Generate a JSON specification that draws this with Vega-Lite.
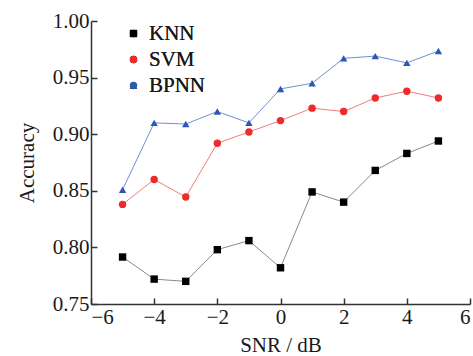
{
  "$schema": "https://vega.github.io/schema/vega-lite/v6.json",
  "width": 379,
  "height": 283,
  "autosize": {"type": "none"},
  "padding": {"left": 91, "top": 21, "right": 3, "bottom": 52},
  "background": "white",
  "config": {
    "view": {"stroke": null},
    "font": "Liberation Serif",
    "axis": {
      "grid": false,
      "domainColor": "#333333",
      "domainWidth": 1.5,
      "tickColor": "#333333",
      "tickWidth": 1.5,
      "tickSize": -6,
      "labelFont": "Liberation Serif",
      "labelFontSize": 21,
      "labelColor": "#1a1a1a",
      "titleFont": "Liberation Serif",
      "titleFontSize": 21,
      "titleFontWeight": "normal",
      "titleColor": "#1a1a1a"
    },
    "legend": {
      "disable": false,
      "labelFont": "Liberation Serif",
      "labelFontSize": 21,
      "labelColor": "#1a1a1a"
    }
  },
  "data": {
    "values": [
      {"snr": -5, "model": "KNN", "acc": 0.7915},
      {"snr": -4, "model": "KNN", "acc": 0.772},
      {"snr": -3, "model": "KNN", "acc": 0.770},
      {"snr": -2, "model": "KNN", "acc": 0.798},
      {"snr": -1, "model": "KNN", "acc": 0.806},
      {"snr": 0, "model": "KNN", "acc": 0.782},
      {"snr": 1, "model": "KNN", "acc": 0.849},
      {"snr": 2, "model": "KNN", "acc": 0.840},
      {"snr": 3, "model": "KNN", "acc": 0.868},
      {"snr": 4, "model": "KNN", "acc": 0.883},
      {"snr": 5, "model": "KNN", "acc": 0.894},
      {"snr": -5, "model": "SVM", "acc": 0.838},
      {"snr": -4, "model": "SVM", "acc": 0.860},
      {"snr": -3, "model": "SVM", "acc": 0.8445},
      {"snr": -2, "model": "SVM", "acc": 0.892},
      {"snr": -1, "model": "SVM", "acc": 0.902},
      {"snr": 0, "model": "SVM", "acc": 0.912},
      {"snr": 1, "model": "SVM", "acc": 0.923},
      {"snr": 2, "model": "SVM", "acc": 0.920},
      {"snr": 3, "model": "SVM", "acc": 0.932},
      {"snr": 4, "model": "SVM", "acc": 0.938},
      {"snr": 5, "model": "SVM", "acc": 0.932},
      {"snr": -5, "model": "BPNN", "acc": 0.851},
      {"snr": -4, "model": "BPNN", "acc": 0.910},
      {"snr": -3, "model": "BPNN", "acc": 0.909},
      {"snr": -2, "model": "BPNN", "acc": 0.920},
      {"snr": -1, "model": "BPNN", "acc": 0.910},
      {"snr": 0, "model": "BPNN", "acc": 0.940},
      {"snr": 1, "model": "BPNN", "acc": 0.945},
      {"snr": 2, "model": "BPNN", "acc": 0.967},
      {"snr": 3, "model": "BPNN", "acc": 0.969},
      {"snr": 4, "model": "BPNN", "acc": 0.963},
      {"snr": 5, "model": "BPNN", "acc": 0.9735}
    ]
  },
  "encoding": {
    "x": {
      "field": "snr", "type": "quantitative",
      "scale": {"domain": [-6, 6], "nice": false, "zero": false},
      "axis": {"values": [-6, -4, -2, 0, 2, 4, 6], "title": "SNR / dB", "labelPadding": 8, "titlePadding": 7}
    },
    "y": {
      "field": "acc", "type": "quantitative",
      "scale": {"domain": [0.75, 1.0], "nice": false, "zero": false},
      "axis": {"values": [0.75, 0.8, 0.85, 0.9, 0.95, 1.0], "format": ".2f", "title": "Accuracy", "labelPadding": 8, "titlePadding": 15}
    }
  },
  "layer": [
    {
      "mark": {"type": "line", "strokeWidth": 1},
      "encoding": {
        "color": {
          "field": "model", "type": "nominal",
          "scale": {"domain": ["KNN", "SVM", "BPNN"], "range": ["#8a8a8a", "#f27c7c", "#7090d8"]},
          "legend": null
        }
      }
    },
    {
      "mark": {"type": "point", "filled": true, "opacity": 1, "size": 55},
      "encoding": {
        "color": {
          "field": "model", "type": "nominal",
          "scale": {"domain": ["KNN", "SVM", "BPNN"], "range": ["#000000", "#ee2b2b", "#2c57b5"]},
          "legend": {
            "title": null,
            "orient": "none",
            "legendX": 32,
            "legendY": 2,
            "symbolSize": 55,
            "symbolOpacity": 1,
            "labelOffset": 5,
            "rowPadding": 4
          }
        },
        "shape": {
          "field": "model", "type": "nominal",
          "scale": {"domain": ["KNN", "SVM", "BPNN"], "range": ["square", "circle", "triangle-up"]},
          "legend": {
            "title": null,
            "orient": "none",
            "legendX": 32,
            "legendY": 2,
            "symbolSize": 55,
            "symbolOpacity": 1,
            "labelOffset": 5,
            "rowPadding": 4
          }
        }
      }
    }
  ],
  "resolve": {"scale": {"color": "independent"}, "legend": {"color": "independent"}}
}
